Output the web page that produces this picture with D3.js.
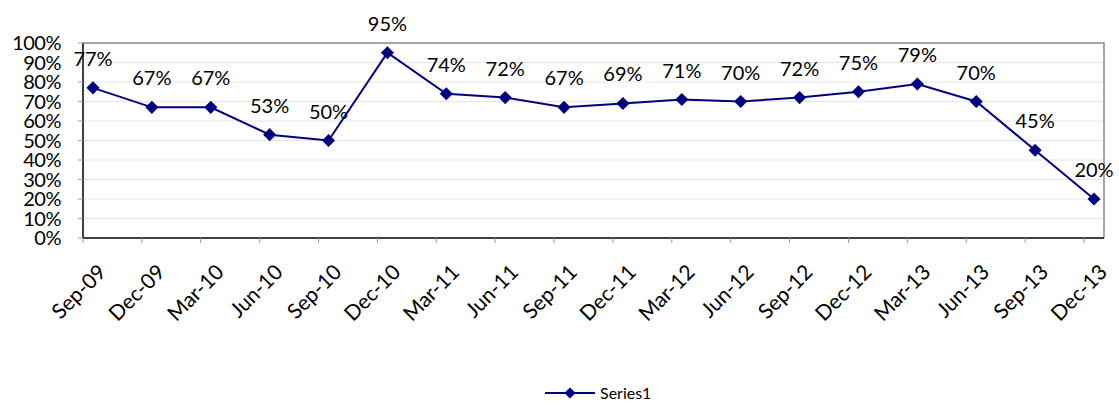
<!DOCTYPE html>
<html>
<head>
<meta charset="utf-8">
<script src="https://cdn.jsdelivr.net/npm/d3@7"></script>
<style>
body{margin:0;background:#fff;}
text{font-family:"Lato","Open Sans",sans-serif;fill:#000;}
</style>
</head>
<body>
<svg width="1119" height="405"></svg>
<script>
(()=>{

//data
let quarters = ["Sep-09","Dec-09","Mar-10","Jun-10","Sep-10","Dec-10","Mar-11","Jun-11","Sep-11","Dec-11","Mar-12","Jun-12","Sep-12","Dec-12","Mar-13","Jun-13","Sep-13","Dec-13"];
let values = [77,67,67,53,50,95,74,72,67,69,71,70,72,75,79,70,45,20];
let yTicks = [0,10,20,30,40,50,60,70,80,90,100];
let seriesName = "Series1";

let svg = d3.select("svg");

//plot area
let left = 83, right = 1104, top = 43, bottom = 238;
let pointOffset = 10; //points sit a bit right of the tick marks

let x = d3.scaleLinear()
	.domain([0, quarters.length-1])
	.range([left+pointOffset, right-pointOffset]);
let y = d3.scaleLinear()
	.domain([0,100])
	.range([bottom, top]);

//gridlines
svg.selectAll(".grid")
	.data(yTicks.slice(1))
	.enter().append("line")
	.attr("class","grid")
	.attr("x1", left).attr("x2", right)
	.attr("y1", d => y(d)).attr("y2", d => y(d))
	.attr("stroke","#e6e6e6")
	.attr("stroke-width",1);

//frame top/right
svg.append("path")
	.attr("d", `M${left},${top}H${right}V${bottom}`)
	.attr("fill","none")
	.attr("stroke","#8c8c8c")
	.attr("stroke-width",1.5);

//y axis
svg.append("line")
	.attr("x1",left).attr("x2",left).attr("y1",top).attr("y2",bottom)
	.attr("stroke","#000").attr("stroke-width",1.5);
svg.selectAll(".ytick")
	.data(yTicks)
	.enter().append("line")
	.attr("x1",left-5).attr("x2",left)
	.attr("y1",d=>y(d)).attr("y2",d=>y(d))
	.attr("stroke","#999");
svg.selectAll(".ylab")
	.data(yTicks)
	.enter().append("text")
	.attr("class","ylab")
	.attr("x",61)
	.attr("y",d=>y(d))
	.attr("dy","0.36em")
	.attr("text-anchor","end")
	.style("font-size","20px")
	.style("letter-spacing","-0.5px")
	.text(d=>d+"%");

//x axis
svg.append("line")
	.attr("x1",left).attr("x2",right).attr("y1",bottom).attr("y2",bottom)
	.attr("stroke","#000").attr("stroke-width",1.5);
svg.selectAll(".xtick")
	.data(quarters)
	.enter().append("line")
	.attr("x1",(d,i)=>x(i)-pointOffset).attr("x2",(d,i)=>x(i)-pointOffset)
	.attr("y1",bottom).attr("y2",bottom+5)
	.attr("stroke","#999");
svg.selectAll(".xlab")
	.data(quarters)
	.enter().append("text")
	.attr("class","xlab")
	.attr("text-anchor","end")
	.attr("transform",(d,i)=>`translate(${x(i)+4},${bottom+25}) rotate(-45)`)
	.attr("dy","0.7em")
	.style("font-size","21px")
	.text(d=>d);

//line
let line = d3.line()
	.x((d,i)=>x(i))
	.y(d=>y(d));
svg.append("path")
	.datum(values)
	.attr("d", line)
	.attr("fill","none")
	.attr("stroke","#000080")
	.attr("stroke-width",2);

//markers
let diamond = d3.symbol().type(d3.symbolDiamond2).size(110);
svg.selectAll(".marker")
	.data(values)
	.enter().append("path")
	.attr("class","marker")
	.attr("d", diamond)
	.attr("transform",(d,i)=>`translate(${x(i)},${y(d)})`)
	.attr("fill","#000080");

//value labels
svg.selectAll(".vlab")
	.data(values)
	.enter().append("text")
	.attr("class","vlab")
	.attr("x",(d,i)=>x(i))
	.attr("y",d=>y(d)-22)
	.attr("text-anchor","middle")
	.style("font-size","20px")
	.text(d=>d+"%");

//legend
let lg = svg.append("g").attr("transform","translate(545,393)");
lg.append("line").attr("x1",0).attr("x2",50).attr("y1",0).attr("y2",0)
	.attr("stroke","#000080").attr("stroke-width",2);
lg.append("path").attr("d", d3.symbol().type(d3.symbolDiamond2).size(80))
	.attr("transform","translate(25,0)").attr("fill","#000080");
lg.append("text").attr("x",55).attr("y",0).attr("dy","0.36em")
	.style("font-size","16px").text(seriesName);

})();
</script>
</body>
</html>
